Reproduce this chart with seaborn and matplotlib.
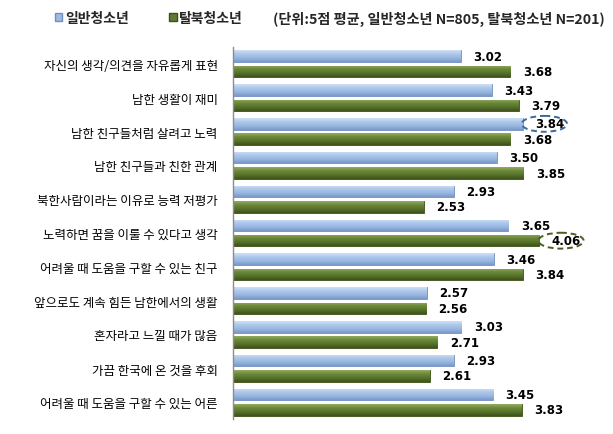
import numpy as np
import pandas as pd
import matplotlib
matplotlib.use("Agg")
import matplotlib.pyplot as plt
import seaborn as sns
from matplotlib.patches import Ellipse, Patch
from matplotlib.colors import LinearSegmentedColormap

categories = [
    "자신의 생각/의견을 자유롭게 표현",
    "남한 생활이 재미",
    "남한 친구들처럼 살려고 노력",
    "남한 친구들과 친한 관계",
    "북한사람이라는 이유로 능력 저평가",
    "노력하면 꿈을 이룰 수 있다고 생각",
    "어려울 때 도움을 구할 수 있는 친구",
    "앞으로도 계속 힘든 남한에서의 생활",
    "혼자라고 느낄 때가 많음",
    "가끔 한국에 온 것을 후회",
    "어려울 때 도움을 구할 수 있는 어른",
]
series_names = ["일반청소년", "탈북청소년"]
general = [3.02, 3.43, 3.84, 3.50, 2.93, 3.65, 3.46, 2.57, 3.03, 2.93, 3.45]
defector = [3.68, 3.79, 3.68, 3.85, 2.53, 4.06, 3.84, 2.56, 2.71, 2.61, 3.83]
unit_text = "(단위:5점 평균, 일반청소년 N=805, 탈북청소년 N=201)"
# highlighted values: (series index, category index)
highlights = [(0, 2), (1, 5)]

df = pd.DataFrame({
    "category": categories * 2,
    "value": general + defector,
    "group": [series_names[0]] * len(categories) + [series_names[1]] * len(categories),
})

sns.set_theme(style="white")
plt.rcParams["font.family"] = ["Noto Sans CJK KR", "DejaVu Sans"]

W, H = 613, 435
fig = plt.figure(figsize=(W / 100, H / 100), dpi=100)
ax = fig.add_axes([233 / W, 1 - 420 / H, (610 - 233) / W, (420 - 48) / H])

blue_mid = "#9dbbe3"
green_mid = "#5e7b32"
sns.barplot(data=df, y="category", x="value", hue="group", orient="h",
            palette=[blue_mid, green_mid], width=0.91, gap=0.25,
            ax=ax, legend=False, saturation=1)

ax.set_xlim(0, 5)
ax.set_ylim(len(categories) - 0.5, -0.5)

# gradient fills clipped to each bar
grad_colors = [
    ["#cfe0f5", "#adc7ea", "#97b6e0", "#7b99c8"],
    ["#93ab62", "#6a8838", "#56722b", "#3e531a"],
]
edge_colors = ["#6f8fbf", "#3b4f18"]
for si, cont in enumerate(ax.containers):
    cmap = LinearSegmentedColormap.from_list(f"g{si}", grad_colors[si])
    grad = np.linspace(0, 1, 64).reshape(-1, 1)
    for p in cont.patches:
        x0, y0 = p.get_x(), p.get_y()
        w, h = p.get_width(), p.get_height()
        ytop, ybot = min(y0, y0 + h), max(y0, y0 + h)
        im = ax.imshow(grad, cmap=cmap, aspect="auto", origin="upper",
                       extent=(x0, x0 + w, ybot, ytop), zorder=p.get_zorder() + 0.1,
                       interpolation="bilinear")
        im.set_clip_path(p)
        p.set_edgecolor(edge_colors[si])
        p.set_linewidth(0.6)
    ax.bar_label(cont, fmt="%.2f", padding=9, fontsize=8.5, fontweight="bold",
                 family="DejaVu Sans", color="black")

ax.set_xlim(0, 5)
ax.set_ylim(len(categories) - 0.5, -0.5)

# dashed ellipses around highlighted values
ell_colors = ["#3a6a9c", "#4a5e22"]
for si, ci in highlights:
    p = ax.containers[si].patches[ci]
    val = p.get_width()
    yc = p.get_y() + p.get_height() / 2
    e = Ellipse((val + 0.29, yc), width=0.6, height=0.47, fill=False,
                edgecolor=ell_colors[si], linestyle=(0, (3, 2)), linewidth=1.4,
                zorder=5)
    ax.add_patch(e)

# axes styling
for s in ["top", "right", "bottom"]:
    ax.spines[s].set_visible(False)
ax.spines["left"].set_color("#8c8c8c")
ax.spines["left"].set_linewidth(1.0)
ax.set_xticks([])
ax.set_xlabel("")
ax.set_ylabel("")
ax.tick_params(axis="y", which="major", length=0, pad=11, labelsize=9, labelcolor="black")
ax.set_yticks(np.arange(len(categories) + 1) - 0.5, minor=True)
ax.tick_params(axis="y", which="minor", length=3, direction="in", color="#8c8c8c", width=1)

# legend at top
handles = [Patch(facecolor=blue_mid, edgecolor="#6f8fbf"),
           Patch(facecolor=green_mid, edgecolor="#3b4f18")]
fig.legend(handles, series_names, loc="center left", bbox_to_anchor=(42 / W, 1 - 19 / H),
           ncol=2, frameon=False, handlelength=0.55, handleheight=0.55,
           handletextpad=0.2, columnspacing=2.9,
           prop={"family": ["Noto Sans CJK KR", "DejaVu Sans"], "weight": "bold", "size": 10})
fig.text(605 / W, 1 - 19 / H, unit_text, ha="right", va="center", fontsize=10.2,
         fontweight="bold", family=["Noto Sans CJK KR", "DejaVu Sans"])

fig.savefig("out.png", dpi=100)
